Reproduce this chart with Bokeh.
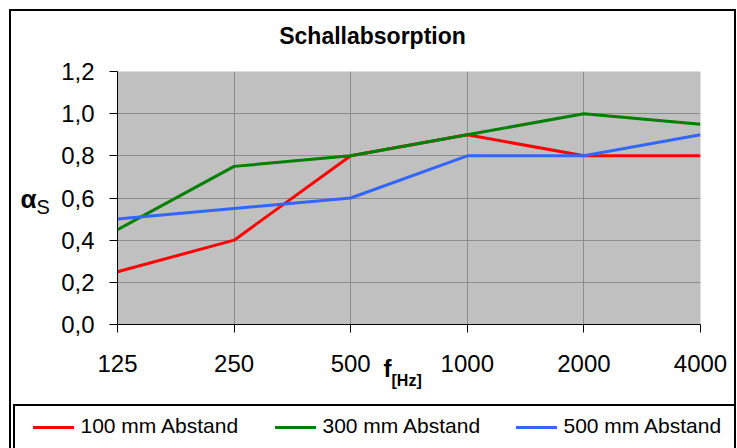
from bokeh.plotting import figure
from bokeh.models import Range1d, FixedTicker, Label
from bokeh.embed import file_html
from bokeh.resources import INLINE

# ---- data ----
categories = ["125", "250", "500", "1000", "2000", "4000"]
abstand_100 = [0.25, 0.40, 0.80, 0.90, 0.80, 0.80]
abstand_300 = [0.45, 0.75, 0.80, 0.90, 1.00, 0.95]
abstand_500 = [0.50, 0.55, 0.60, 0.80, 0.80, 0.90]
series_names = ["100 mm Abstand", "300 mm Abstand", "500 mm Abstand"]
y_ticks = [0.0, 0.2, 0.4, 0.6, 0.8, 1.0, 1.2]
y_tick_labels = ["0,0", "0,2", "0,4", "0,6", "0,8", "1,0", "1,2"]

xpos = list(range(len(categories)))

# ---- layout (canvas pixels) ----
W, H = 737, 448
FL, FR, FT, FB = 117, 700, 71, 324   # frame edges
colors = ["#ff0000", "#008000", "#3366ff"]
legend_x = [33, 275, 516]            # legend swatch left edges
legend_y = 427                       # legend row centre

# chart border, legend frame and legend swatches, drawn as CSS background layers
def css_rect(x, y, w, h, col="#000"):
    return f"linear-gradient({col},{col}) {x}px {y}px / {w}px {h}px no-repeat"

layers = [
    css_rect(9, 9, 727, 2),            # outer top
    css_rect(9, 9, 2, H - 9),          # outer left
    css_rect(734, 9, 2, H - 9),        # outer right
    css_rect(13, 404, 722, 2),         # legend top
    css_rect(13, 404, 2, H - 404),     # legend left
]
for lx, col in zip(legend_x, colors):
    layers.append(css_rect(lx, legend_y - 1.5, 41, 3, col))

p = figure(width=W, height=H, output_backend="svg", toolbar_location=None,
           x_range=Range1d(0, len(categories) - 1), y_range=Range1d(0, 1.2),
           min_border_left=FL, min_border_right=W - FR, min_border_top=FT, min_border_bottom=H - FB,
           styles={"background": ", ".join(layers) + ", white"})
p.background_fill_color = "#c0c0c0"
p.border_fill_alpha = 0
p.outline_line_color = None

# canvas px -> data units (texts outside the frame live in side panels)
def dx(px):
    return (px - FL) / (FR - FL) * (len(categories) - 1)

def dy(py):
    return (FB - py) / (FB - FT) * 1.2

FONT = "Liberation Sans"

# axes
p.xaxis.ticker = FixedTicker(ticks=xpos)
p.xaxis.major_label_overrides = {i: c for i, c in zip(xpos, categories)}
p.yaxis.ticker = FixedTicker(ticks=y_ticks)
p.yaxis.major_label_overrides = {t: l for t, l in zip(y_ticks, y_tick_labels)}
for ax in (p.xaxis, p.yaxis):
    ax.axis_line_color = "black"
    ax.axis_line_width = 1
    ax.major_tick_line_color = "black"
    ax.major_tick_out = 8
    ax.major_tick_in = 0
    ax.minor_tick_line_color = None
    ax.major_label_text_font = FONT
    ax.major_label_text_font_size = "24px"
    ax.major_label_text_color = "black"
p.xaxis.major_label_standoff = 22
p.yaxis.major_label_standoff = 15

# grid
p.xgrid.ticker = FixedTicker(ticks=xpos[1:-1])
p.ygrid.ticker = FixedTicker(ticks=y_ticks[1:-1])
p.xgrid.grid_line_color = "#8c8c8c"
p.ygrid.grid_line_color = "#8c8c8c"

# lines
for vals, col in zip([abstand_100, abstand_300, abstand_500], colors):
    p.line(xpos, vals, line_color=col, line_width=3)

def add_text(px, py, text, size, bold=False, place="left", align="left"):
    p.add_layout(Label(x=dx(px), y=dy(py), text=text, text_align=align,
                       text_baseline="alphabetic", text_font=FONT,
                       text_font_style="bold" if bold else "normal",
                       text_font_size=size, text_color="black"), place)

# legend texts
legend_places = ["above", "below", "below"]
for lx, name, place in zip(legend_x, series_names, legend_places):
    add_text(lx + 47, legend_y - 2, name, "21px", place=place)

# title and axis labels
add_text(372, 35, "Schallabsorption", "23px", bold=True, place="above", align="center")
add_text(20, 198, "α", "26px", bold=True, place="left")
add_text(36, 206, "S", "20px", place="left")
add_text(383, 368, "f", "24px", bold=True, place="left")
add_text(391, 380, "[Hz]", "16px", bold=True, place="right")

open("out.html", "w").write(file_html(p, INLINE))
